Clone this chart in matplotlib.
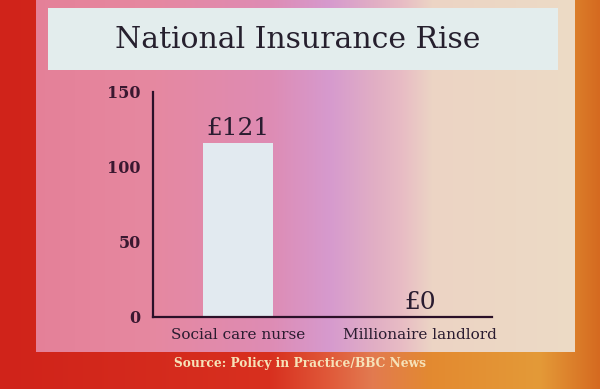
import numpy as np
import matplotlib
matplotlib.use("Agg")
import matplotlib.pyplot as plt
from matplotlib.colors import to_rgb
from matplotlib.patches import Rectangle

# ---- data ----
categories = ["Social care nurse", "Millionaire landlord"]
bar_values = [116, 0]
value_labels = ["£121", "£0"]
yticks = [0, 50, 100, 150]
title = "National Insurance Rise"
source = "Source: Policy in Practice/BBC News"

W, H = 600, 389
fig = plt.figure(figsize=(W / 100, H / 100), dpi=100)

# ---- background (photo of a TV screen) ----
bg = fig.add_axes([0, 0, 1, 1])
bg.set_axis_off()
xs = np.linspace(0, 1, W)

def grad(stops):
    pos = [p for p, _ in stops]
    cols = np.array([to_rgb(c) for _, c in stops])
    return np.stack([np.interp(xs, pos, cols[:, k]) for k in range(3)], axis=1)

outer = grad([(0, "#d0231a"), (0.45, "#d8301f"), (0.55, "#e05a3a"), (0.62, "#e27a50"),
              (0.72, "#e38a30"), (0.9, "#e49a38"), (1, "#d56a20")])
panel = grad([(0, "#e47e96"), (0.25, "#e688a0"), (0.45, "#de8cb4"), (0.55, "#d69ace"),
              (0.63, "#e2b0c4"), (0.67, "#e8bcc4"), (0.72, "#ecd4c4"), (1, "#ecdcc6")])
img = np.repeat(outer[None, :, :], H, axis=0)
x0, x1, y1 = 36, 575, 352
img[:y1, x0:x1] = panel[x0:x1][None, :, :]
bg.imshow(img, extent=[0, W, H, 0], aspect="auto")
bg.set_xlim(0, W)
bg.set_ylim(H, 0)
bg.add_patch(Rectangle((48, 8), 510, 62, facecolor="#e3eded", edgecolor="none"))
bg.text(298, 40, title, ha="center", va="center", fontsize=21.5,
        family="DejaVu Serif", color="#26202e")
bg.text(300, 364, source, ha="center", va="center", fontsize=8.8,
        family="DejaVu Serif", weight="bold", color="#f6e2b8")

# ---- chart ----
ax = fig.add_axes([153 / W, 1 - 316.7 / H, (492 - 153) / W, (316.7 - 92) / H])
ax.patch.set_alpha(0)
x = np.arange(len(categories))
ax.bar(x, bar_values, width=0.38, color="#e2eaf0", edgecolor="none", zorder=2)
for xi, v, lab in zip(x, bar_values, value_labels):
    ax.text(xi, v + 2, lab, ha="center", va="bottom", fontsize=18,
            family="DejaVu Serif", color="#2a1c30")
ax.set_xlim(-0.467, 1.396)
ax.set_ylim(0, 150)
ax.set_yticks(yticks)
ax.set_yticklabels([str(t) for t in yticks], family="DejaVu Serif",
                   weight="bold", fontsize=11.5, color="#3a1830")
ax.set_xticks(x)
ax.set_xticklabels(categories, family="DejaVu Serif", fontsize=11, color="#2a1c30")
ax.tick_params(axis="y", length=0, pad=9)
ax.tick_params(axis="x", length=0, pad=8)
for s in ["top", "right"]:
    ax.spines[s].set_visible(False)
for s in ["left", "bottom"]:
    ax.spines[s].set_color("#2a1028")
    ax.spines[s].set_linewidth(1.6)

fig.savefig("out.png", dpi=100)
